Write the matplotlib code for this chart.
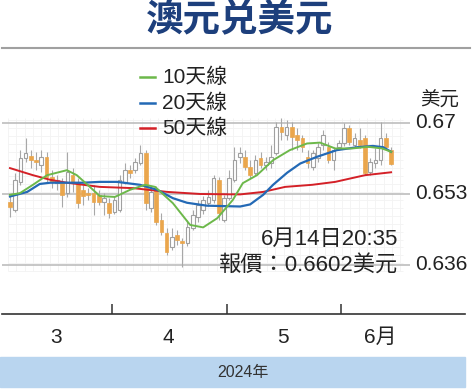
import matplotlib
matplotlib.use("Agg")
import matplotlib.pyplot as plt
import numpy as np
from matplotlib import font_manager

# daily candles, 2024-03 .. 2024-06-14 (AUD/USD)
opens = [0.6511, 0.6492, 0.6559, 0.6616, 0.6621, 0.6611, 0.6599, 0.6619, 0.6571, 0.6556,
         0.6559, 0.6532, 0.6575, 0.6559, 0.6540, 0.6532, 0.6532, 0.6528, 0.6511, 0.6508,
         0.6487, 0.6492, 0.6559, 0.6587, 0.6587, 0.6604, 0.6628, 0.6496, 0.6540, 0.6468,
         0.6437, 0.6403, 0.6432, 0.6417, 0.6413, 0.6449, 0.6475, 0.6492, 0.6508, 0.6516,
         0.6564, 0.6468, 0.6520, 0.6564, 0.6619, 0.6619, 0.6595, 0.6580, 0.6616, 0.6599,
         0.6604, 0.6628, 0.6690, 0.6671, 0.6690, 0.6671, 0.6664, 0.6619, 0.6595, 0.6616,
         0.6647, 0.6643, 0.6611, 0.6643, 0.6652, 0.6688, 0.6647, 0.6659, 0.6664, 0.6583,
         0.6604, 0.6611, 0.6664, 0.6635]
highs = [0.6528, 0.6580, 0.6635, 0.6664, 0.6635, 0.6631, 0.6635, 0.6631, 0.6587, 0.6575,
         0.6568, 0.6631, 0.6592, 0.6568, 0.6552, 0.6544, 0.6552, 0.6540, 0.6532, 0.6520,
         0.6525, 0.6575, 0.6604, 0.6599, 0.6616, 0.6647, 0.6635, 0.6544, 0.6549, 0.6484,
         0.6449, 0.6449, 0.6444, 0.6425, 0.6468, 0.6492, 0.6516, 0.6525, 0.6540, 0.6575,
         0.6571, 0.6528, 0.6587, 0.6643, 0.6643, 0.6635, 0.6611, 0.6623, 0.6631, 0.6619,
         0.6647, 0.6702, 0.6712, 0.6707, 0.6702, 0.6688, 0.6671, 0.6635, 0.6635, 0.6652,
         0.6683, 0.6655, 0.6640, 0.6659, 0.6700, 0.6695, 0.6676, 0.6688, 0.6671, 0.6616,
         0.6640, 0.6702, 0.6676, 0.6643]
lows = [0.6475, 0.6487, 0.6552, 0.6607, 0.6592, 0.6587, 0.6583, 0.6559, 0.6544, 0.6540,
        0.6499, 0.6523, 0.6535, 0.6496, 0.6504, 0.6516, 0.6480, 0.6504, 0.6480, 0.6473,
        0.6482, 0.6487, 0.6554, 0.6568, 0.6580, 0.6599, 0.6492, 0.6487, 0.6456, 0.6432,
        0.6384, 0.6396, 0.6408, 0.6355, 0.6406, 0.6444, 0.6463, 0.6482, 0.6501, 0.6508,
        0.6468, 0.6463, 0.6516, 0.6559, 0.6604, 0.6587, 0.6568, 0.6575, 0.6592, 0.6587,
        0.6592, 0.6623, 0.6659, 0.6659, 0.6635, 0.6635, 0.6631, 0.6592, 0.6587, 0.6607,
        0.6635, 0.6604, 0.6587, 0.6635, 0.6645, 0.6647, 0.6640, 0.6640, 0.6575, 0.6575,
        0.6592, 0.6599, 0.6635, 0.6599]
closes = [0.6499, 0.6564, 0.6616, 0.6628, 0.6611, 0.6607, 0.6619, 0.6571, 0.6559, 0.6564,
          0.6528, 0.6583, 0.6559, 0.6508, 0.6525, 0.6528, 0.6511, 0.6511, 0.6520, 0.6484,
          0.6516, 0.6564, 0.6587, 0.6580, 0.6607, 0.6628, 0.6508, 0.6535, 0.6463, 0.6439,
          0.6391, 0.6427, 0.6420, 0.6413, 0.6451, 0.6480, 0.6504, 0.6516, 0.6523, 0.6568,
          0.6484, 0.6520, 0.6568, 0.6611, 0.6628, 0.6595, 0.6575, 0.6611, 0.6599, 0.6607,
          0.6619, 0.6690, 0.6678, 0.6690, 0.6666, 0.6659, 0.6643, 0.6604, 0.6628, 0.6643,
          0.6671, 0.6611, 0.6635, 0.6652, 0.6688, 0.6655, 0.6664, 0.6647, 0.6580, 0.6607,
          0.6611, 0.6664, 0.6643, 0.6602]

# moving averages (day index, price)
ma10_x = [0, 1.9, 4.4, 7.1, 10.9, 12.8, 15.3, 17.2, 20.1, 23.0, 25.9, 27.8, 31.2, 34.5,
          37.0, 39.7, 42.7, 44.6, 47.3, 50.4, 53.6, 56.9, 59.4, 62.3, 65.5, 68.6, 71.3, 73.0]
ma10_y = [0.6528, 0.6532, 0.6552, 0.6575, 0.6587, 0.6575, 0.6547, 0.6525, 0.6523, 0.6540,
          0.6552, 0.6547, 0.6508, 0.6456, 0.6450, 0.6472, 0.6516, 0.6556, 0.6575, 0.6611,
          0.6635, 0.6651, 0.6653, 0.6639, 0.6639, 0.6643, 0.6639, 0.6631]
ma20_x = [0, 3.3, 5.7, 7.7, 14.0, 17.2, 20.5, 24.9, 28.2, 31.2, 33.9, 37.7, 44.1, 46.0,
          48.5, 50.4, 53.1, 55.6, 58.8, 62.6, 66.5, 69.5, 71.5, 73.0]
ma20_y = [0.6524, 0.6535, 0.6554, 0.6557, 0.6557, 0.6559, 0.6559, 0.6552, 0.6540, 0.6520,
          0.6509, 0.6502, 0.6500, 0.6505, 0.6528, 0.6552, 0.6581, 0.6603, 0.6619, 0.6635,
          0.6642, 0.6645, 0.6642, 0.6631]
ma50_x = [0, 4.4, 7.7, 10.9, 17.2, 23.6, 30.1, 36.4, 44.1, 48.5, 52.7, 57.9, 62.3, 65.5,
          68.0, 73.0]
ma50_y = [0.6592, 0.6575, 0.6564, 0.6557, 0.6547, 0.6544, 0.6535, 0.6530, 0.6529, 0.6535,
          0.6547, 0.6552, 0.6559, 0.6568, 0.6575, 0.6582]

yticks = [0.67, 0.653, 0.636]
ylabels = ['0.67', '0.653', '0.636']
month_bounds = [19.5, 41.5, 63.5]
month_pos = [8.8, 30.3, 52.3, 70.9]
month_labels = ['3', '4', '5', '6月']

names = {f.name for f in font_manager.fontManager.ttflist}
narrow = 'Liberation Sans Narrow' if 'Liberation Sans Narrow' in names else 'Liberation Sans'
fam = [narrow, 'Noto Sans CJK TC', 'DejaVu Sans']
cjk = ['Noto Sans CJK TC', 'DejaVu Sans']

fig = plt.figure(figsize=(4.74, 3.90), dpi=100)
W, H = 474, 390
ax = fig.add_axes([2 / W, (H - 314) / H, 463 / W, 254 / H])
ax.set_xlim(-1.53, 87.16)
ax.set_ylim(0.62426, 0.685086)
for s in ['top', 'right', 'left']:
    ax.spines[s].set_visible(False)
ax.spines['bottom'].set_color('#333333')
ax.spines['bottom'].set_linewidth(1.2)
ax.set_yticks([])
ax.set_xticks(month_bounds)
ax.set_xticklabels([])
ax.tick_params(axis='x', direction='in', length=7, width=1.1, color='#333333')

# faint background grid
gx = np.arange(-0.4, 75.5, 1.6)
gy = np.arange(0.6345, 0.6712, 0.0019)
ax.vlines(gx, 0.6345, 0.6712, color='#f3f3f3', lw=0.6, zorder=0)
ax.hlines(gy, -0.4, 75.2, color='#f3f3f3', lw=0.6, zorder=0)

ax.hlines(yticks, -2, 76.6, color='#b8b8b8', lw=1.1, zorder=1)
for v, t in zip(yticks, ylabels):
    ax.text(77.6, v, t, fontsize=15, family=fam, va='center', ha='left', color='#222222')

x = np.arange(len(closes))
o = np.array(opens); c = np.array(closes)
up = c >= o
ax.vlines(x, lows, highs, color='#a8a8a8', lw=0.8, zorder=2)
bot = np.minimum(o, c)
hgt = np.maximum(np.abs(c - o), 0.00012)
ax.bar(x[up], hgt[up], bottom=bot[up], width=0.7, color='white',
       edgecolor='#a0a0a0', linewidth=0.8, zorder=3)
ax.bar(x[~up], hgt[~up], bottom=bot[~up], width=0.7, color='#eaa64c',
       edgecolor='#eaa64c', linewidth=0.5, zorder=3)

ax.plot(ma50_x, ma50_y, color='#d42027', lw=1.4, zorder=4)
ax.plot(ma20_x, ma20_y, color='#2369b5', lw=1.6, zorder=5)
ax.plot(ma10_x, ma10_y, color='#6cb84a', lw=1.4, zorder=6)

for p, t in zip(month_pos, month_labels):
    ax.text(p, 0.6186, t, fontsize=15, family=fam, ha='center', va='center', color='#222222')

# title
fig.text(240 / W, 1 - 20 / H, '澳元兑美元', fontsize=27, fontweight='bold',
         family=cjk, color='#1d3f7c', ha='center', va='center')
fig.add_artist(plt.Line2D([2 / W, 470 / W], [1 - 48 / H, 1 - 48 / H],
                          color='#a0a0a0', lw=1.5))

# legend
for yy, col, lab in [(77, '#6cb84a', '10天線'), (103, '#2369b5', '20天線'),
                     (128, '#d42027', '50天線')]:
    fig.add_artist(plt.Line2D([140 / W, 155 / W], [1 - yy / H, 1 - yy / H], color=col, lw=1.8))
    fig.text(162 / W, 1 - yy / H, lab, fontsize=15, family=fam, va='center', ha='left',
             color='#222222')

fig.text(440 / W, 1 - 100 / H, '美元', fontsize=14, family=cjk, ha='center', va='center',
         color='#222222')

fig.text(398 / W, 1 - 239 / H, '6月14日20:35', fontsize=16, family=fam, ha='right',
         va='center', color='#222222')
fig.text(398 / W, 1 - 266 / H, '報價：0.6602美元', fontsize=16, family=fam, ha='right',
         va='center', color='#222222')

# year band
fig.patches.append(plt.Rectangle((0, (H - 387) / H), 465 / W, 30 / H,
                                 transform=fig.transFigure, color='#b9d5ef', zorder=0))
fig.text(243 / W, 1 - 372 / H, '2024年', fontsize=11.5, family=fam, ha='center',
         va='center', color='#333333')

fig.savefig('out.png', dpi=100)
